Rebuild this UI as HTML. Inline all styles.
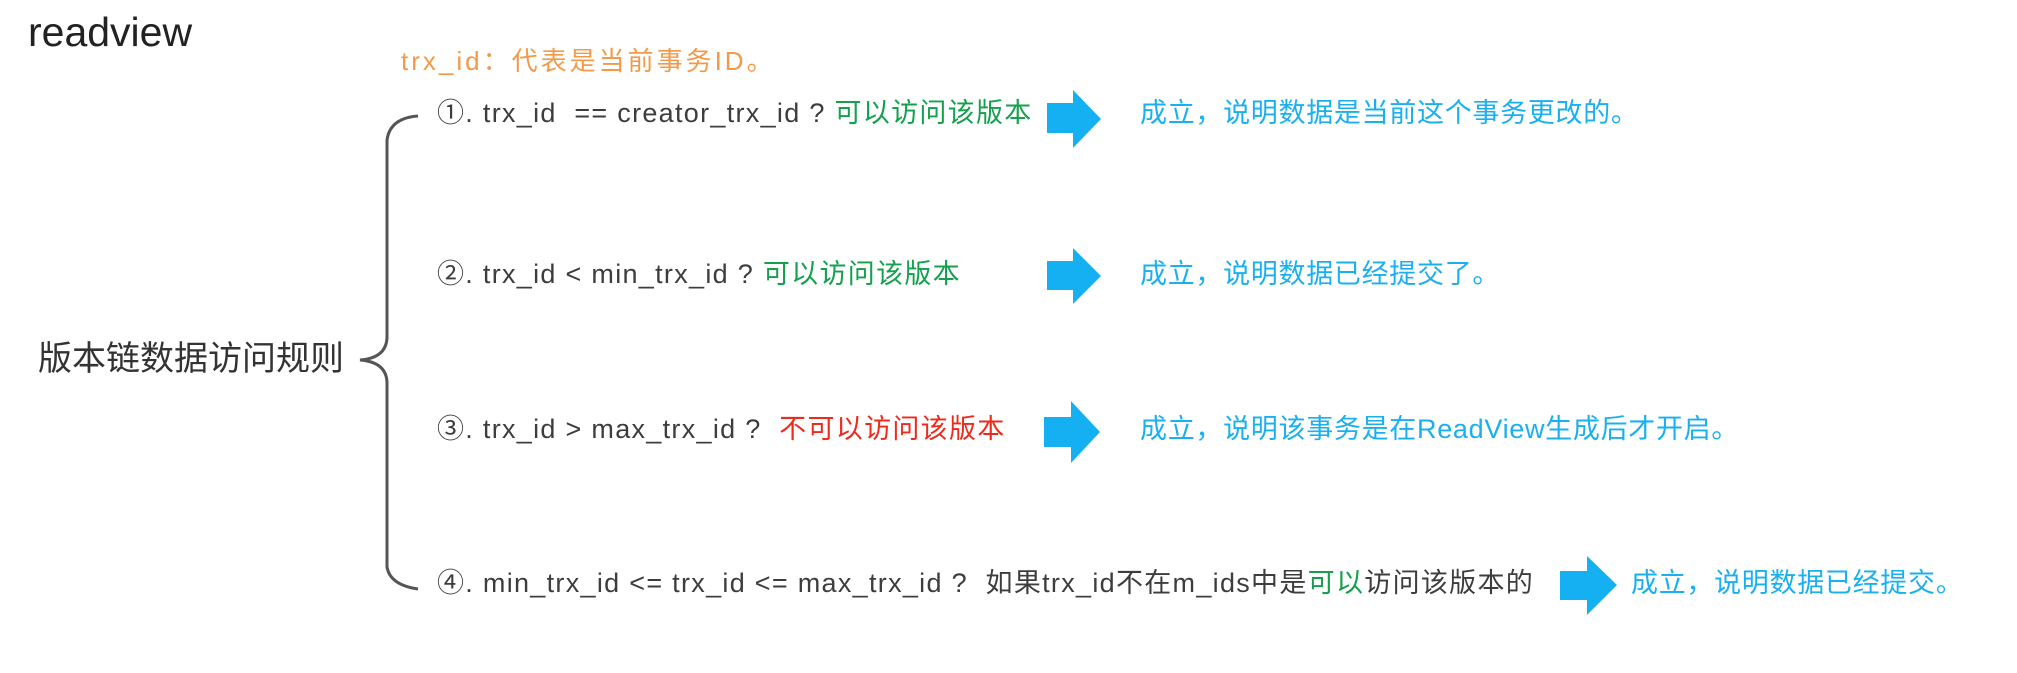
<!DOCTYPE html>
<html><head><meta charset="utf-8"><style>
html,body{margin:0;padding:0;background:#fff;}
body{width:2017px;height:673px;position:relative;overflow:hidden;font-family:"Liberation Sans","Noto Sans CJK SC",sans-serif;}
.t{position:absolute;white-space:nowrap;line-height:1;}
.r{font-size:27px;color:#3d3d3d;letter-spacing:1.3px;}
.g{color:#14a04c;}
.red{color:#ee2a1c;}
.b{font-size:27px;color:#1ab0ef;letter-spacing:0.7px;}
</style></head><body>
<div class="t" style="left:28px;top:12px;font-size:41px;color:#222;">readview</div>
<div class="t" style="left:401px;top:48px;font-size:26px;color:#f29a4a;letter-spacing:3px;">trx_id：代表是当前事务ID。</div>
<div class="t" style="left:38px;top:342px;font-size:34px;color:#333;">版本链数据访问规则</div>

<div class="t r" style="left:437px;top:100px;">①. trx_id&nbsp; == creator_trx_id ? <span class="g">可以访问该版本</span></div>
<div class="t r" style="left:437px;top:261px;">②. trx_id &lt; min_trx_id ? <span class="g">可以访问该版本</span></div>
<div class="t r" style="left:437px;top:416px;">③. trx_id &gt; max_trx_id ?&nbsp; <span class="red">不可以访问该版本</span></div>
<div class="t r" style="left:437px;top:570px;">④. min_trx_id &lt;= trx_id &lt;= max_trx_id ?&nbsp; 如果trx_id不在m_ids中是<span class="g">可以</span>访问该版本的</div>

<div class="t b" style="left:1140px;top:100px;">成立，说明数据是当前这个事务更改的。</div>
<div class="t b" style="left:1140px;top:261px;">成立，说明数据已经提交了。</div>
<div class="t b" style="left:1140px;top:416px;">成立，说明该事务是在ReadView生成后才开启。</div>
<div class="t b" style="left:1631px;top:570px;">成立，说明数据已经提交。</div>

<svg width="2017" height="673" style="position:absolute;left:0;top:0;">
<g fill="#15b0f2">
<polygon points="1047,103 1073,103 1073,90 1101,119 1073,148 1073,133 1047,133"/>
<polygon points="1047,261 1073,261 1073,248 1101,276 1073,304 1073,290 1047,290"/>
<polygon points="1044,417 1071,417 1071,401 1100,432 1071,463 1071,447 1044,447"/>
<polygon points="1560,571 1587,571 1587,556 1617,585 1587,615 1587,600 1560,600"/>
</g>
<path d="M418,116 Q390,118 387,140 L387,338 Q386,358 360,360 Q386,362 387,382 L387,567 Q390,585 418,589" fill="none" stroke="#555" stroke-width="3"/>
</svg>
</body></html>
